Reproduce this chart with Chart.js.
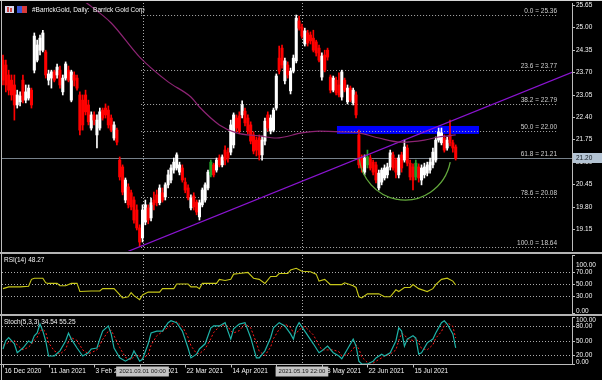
<!DOCTYPE html>
<html>
<head>
<meta charset="utf-8">
<script src="https://cdn.jsdelivr.net/npm/chart.js@4.4.0/dist/chart.umd.min.js"></script>
<style>
  html, body { margin: 0; padding: 0; background: #000; }
  #wrap { position: relative; width: 602px; height: 380px; background: #000; overflow: hidden; }
  #wrap canvas { position: absolute; left: 0; }
  .sep { position: absolute; left: 0; width: 602px; background: #b4b4b4; }
</style>
</head>
<body>
<div id="wrap">
  <canvas id="main" width="602" height="252" style="top:0"></canvas>
  <div class="sep" style="top:0;height:1px;background:#d6d6d6"></div>
  <div class="sep" style="top:252px;height:2px"></div>
  <canvas id="rsi" width="602" height="60" style="top:254px"></canvas>
  <div class="sep" style="top:314px;height:2px"></div>
  <canvas id="stoch" width="602" height="64" style="top:316px"></canvas>
</div>
<script>
// === Nến ngày #BarrickGold (chỉ số phiên, 0 = 16 Dec 2020)
const opens = [
  24.05, 23.91, 23.62, 23.47, 23.33, 22.75, 22.84, 23.47, 22.89, 22.95,
  23.18, 23.76, 24.05, 24.34, 24.34, 24.29, 23.47, 23.53, 23.71, 23.62,
  23.76, 23.13, 23.53, 23.76, 22.89, 23.62, 23.53, 23.04, 22.89, 23.04,
  22.75, 22.08, 22.46, 21.88, 22.08, 22.60, 22.66, 22.60, 22.37, 21.79,
  22.02, 21.15, 20.95, 19.99, 20.37, 20.20, 19.99, 19.70, 19.18, 18.89,
  19.35, 19.76, 19.47, 19.99, 20.14, 19.91, 20.20, 20.08, 20.43, 20.57,
  20.86, 20.92, 20.80, 20.92, 20.51, 20.34, 19.76, 20.11, 19.93, 19.50,
  19.85, 19.99, 20.34, 20.72, 21.01, 20.86, 21.21, 21.01, 21.44, 21.38,
  21.38, 21.59, 22.37, 22.43, 22.46, 22.57, 22.37, 22.17, 21.88, 21.73,
  21.79, 21.30, 21.70, 22.46, 21.99, 22.02, 22.66, 24.11, 24.40, 23.45,
  23.91, 23.16, 23.73, 24.03, 25.19, 25.01, 24.52, 24.84, 24.78, 24.69,
  24.58, 24.40, 23.56, 24.20, 24.34, 23.56, 23.18, 23.47, 23.33, 22.98,
  23.47, 22.84, 23.24, 22.81, 23.04, 21.88, 21.21, 20.80, 21.01, 21.21,
  21.09, 21.01, 20.34, 20.51, 20.63, 20.72, 20.95, 21.30, 21.15, 20.72,
  21.30, 21.15, 21.50, 21.06, 20.95, 20.66, 20.95, 20.57, 20.72, 20.77,
  20.86, 21.01, 21.15, 21.73, 21.65, 21.79, 21.50, 21.88, 21.65, 21.53
];
const highs = [
  24.20, 24.05, 23.76, 23.62, 23.62, 23.18, 23.13, 23.62, 23.33, 23.33,
  23.24, 24.84, 24.63, 24.78, 24.92, 24.34, 23.76, 23.76, 23.76, 23.94,
  23.88, 23.62, 24.00, 23.88, 23.76, 23.71, 23.62, 23.13, 23.04, 23.18,
  22.89, 22.55, 22.55, 22.46, 22.66, 22.66, 22.78, 22.72, 22.46, 22.26,
  22.08, 21.24, 21.01, 20.63, 20.46, 20.28, 20.08, 19.85, 19.27, 19.85,
  19.99, 19.85, 20.05, 20.22, 20.28, 20.43, 20.34, 20.49, 20.86, 21.01,
  21.21, 21.36, 21.09, 21.01, 20.63, 20.43, 20.14, 20.20, 19.99, 19.99,
  20.34, 20.49, 20.86, 21.15, 21.06, 21.21, 21.30, 21.30, 21.56, 21.50,
  22.31, 22.52, 22.46, 22.55, 22.87, 22.66, 22.46, 22.26, 21.97, 21.82,
  21.88, 21.85, 22.37, 22.55, 22.46, 22.66, 23.65, 24.46, 24.49, 24.11,
  24.00, 23.82, 24.20, 25.36, 25.33, 25.10, 24.98, 24.92, 24.87, 24.92,
  24.63, 24.49, 24.26, 24.34, 24.40, 23.62, 23.59, 23.56, 23.68, 23.76,
  23.53, 23.33, 23.30, 23.24, 23.13, 22.02, 21.30, 21.30, 21.44, 21.30,
  21.15, 21.09, 20.86, 20.92, 21.01, 21.06, 21.44, 21.38, 21.21, 21.30,
  21.38, 21.73, 21.59, 21.15, 21.04, 21.15, 21.04, 21.01, 21.06, 21.09,
  21.21, 21.50, 21.82, 22.08, 22.08, 21.88, 21.82, 22.31, 21.73, 21.59
];
const lows = [
  23.33, 23.13, 23.04, 22.89, 22.31, 22.66, 22.72, 22.81, 22.81, 22.89,
  22.66, 23.68, 24.00, 24.20, 24.29, 23.53, 23.33, 23.24, 23.42, 23.53,
  23.24, 23.04, 23.47, 23.42, 22.84, 23.30, 23.18, 21.88, 22.02, 22.46,
  22.17, 22.02, 22.17, 21.50, 22.02, 22.31, 22.37, 22.08, 21.97, 21.73,
  21.59, 20.57, 20.14, 19.91, 19.76, 19.70, 19.32, 19.12, 18.64, 18.77,
  19.27, 19.30, 19.38, 19.70, 19.82, 19.85, 19.93, 19.99, 20.34, 20.49,
  20.77, 20.86, 20.72, 20.51, 20.20, 19.99, 19.70, 19.70, 19.56, 19.41,
  19.79, 19.93, 20.28, 20.66, 20.66, 20.80, 20.95, 20.95, 21.01, 21.09,
  21.30, 21.50, 21.97, 21.91, 22.37, 22.14, 21.91, 21.62, 21.33, 21.27,
  21.15, 21.15, 21.59, 21.99, 21.91, 21.97, 22.60, 23.65, 23.82, 23.36,
  23.53, 23.07, 23.68, 23.97, 24.92, 24.69, 24.46, 24.46, 24.52, 24.29,
  24.17, 24.00, 23.47, 23.71, 24.05, 23.10, 23.13, 23.04, 22.98, 22.89,
  23.13, 22.78, 22.84, 22.75, 22.37, 20.92, 20.80, 20.72, 20.92, 20.86,
  20.72, 20.49, 20.28, 20.43, 20.57, 20.63, 20.86, 20.86, 20.63, 20.63,
  20.80, 21.09, 20.98, 20.57, 20.28, 20.57, 20.51, 20.43, 20.63, 20.69,
  20.77, 20.92, 21.09, 21.67, 21.59, 21.38, 21.44, 21.56, 21.38, 21.15
];
const closes = [
  23.47, 23.33, 23.18, 23.04, 22.75, 23.04, 23.01, 22.89, 23.13, 23.24,
  22.75, 24.75, 24.49, 24.69, 24.84, 23.62, 23.65, 23.71, 23.47, 23.85,
  23.33, 23.53, 23.94, 23.47, 23.71, 23.47, 23.24, 22.02, 22.17, 22.55,
  22.26, 22.46, 22.31, 22.31, 22.55, 22.37, 22.46, 22.17, 22.02, 22.17,
  21.67, 20.66, 20.22, 20.57, 19.85, 19.79, 19.41, 19.18, 18.77, 19.70,
  19.85, 19.41, 19.91, 19.85, 19.91, 20.34, 19.99, 20.43, 20.72, 20.92,
  21.09, 21.30, 21.01, 20.57, 20.28, 20.05, 20.05, 19.79, 19.64, 19.91,
  20.28, 20.43, 20.80, 21.09, 20.72, 21.15, 21.01, 21.24, 21.15, 21.21,
  22.17, 22.46, 22.08, 21.99, 22.75, 22.23, 21.99, 21.70, 21.41, 21.44,
  21.30, 21.73, 22.28, 22.08, 22.37, 22.60, 23.59, 23.73, 23.91, 24.03,
  23.62, 23.73, 24.11, 25.27, 24.98, 24.75, 24.90, 24.55, 24.61, 24.34,
  24.26, 24.05, 24.17, 23.76, 24.14, 23.18, 23.53, 23.10, 23.04, 23.71,
  23.18, 23.24, 22.89, 23.18, 22.46, 21.01, 20.92, 21.21, 21.24, 20.92,
  20.80, 20.57, 20.77, 20.86, 20.92, 20.95, 21.36, 20.92, 20.80, 21.21,
  20.92, 21.53, 21.06, 20.66, 20.57, 21.06, 20.63, 20.92, 20.95, 21.01,
  21.09, 21.38, 21.73, 21.97, 21.94, 21.44, 21.73, 21.65, 21.50, 21.20
];
const greenBars = [73, 128, 145];

// === Đường MA
const maIdx = [0, 14, 28, 38, 48, 58, 66, 69, 76, 82, 90, 96, 105, 111, 119, 125, 132, 140, 148, 153, 159];
const maVal = [27.71, 26.75, 25.80, 25.13, 24.14, 23.42, 22.98, 22.69, 22.17, 21.94, 21.85, 21.79, 21.94, 21.99, 21.97, 21.94, 21.79, 21.67, 21.73, 21.82, 21.88];

// === Trendline
const trendIdx = [44, 199.85];
const trendVal = [18.5, 23.7];

// === Fibonacci
const fibLevels = ["0.0", "23.6", "38.2", "50.0", "61.8", "78.6", "100.0"];
const fibPrices = [25.36, 23.77, 22.79, 22.0, 21.21, 20.08, 18.64];
const fibFrom = 48.5;
const fibTo = 194.6;

// === Vùng xanh + vòng cung
const zoneFrom = 117.3, zoneTo = 167.2, zoneTop = 22.14, zoneBottom = 21.91;
const arcIdx = 141.2, arcPrice = 21.36, arcBars = 16.2, arcDepth = 1.37;

const bidPrice = 21.2;
const priceTicks = [25.65, 25.0, 24.35, 23.7, 23.05, 22.4, 21.75, 21.1, 20.45, 19.8, 19.15];

// === RSI(14)
const rsiIdx = [0, 2, 6, 9, 10, 11, 14, 15, 16, 19, 20, 22, 24, 26, 27, 31, 34, 35, 39, 40,
  42, 44, 45, 46, 48, 49, 51, 55, 56, 60, 61, 65, 66, 68, 69, 70, 75, 76, 78, 80,
  81, 83, 86, 88, 90, 92, 94, 96, 97, 100, 101, 103, 105, 108, 110, 111, 113, 115, 119, 120,
  123, 124, 125, 126, 128, 132, 134, 136, 138, 139, 141, 143, 144, 146, 149, 151, 152, 154, 156, 158, 159];
const rsiVal = [42, 45, 45, 46, 58, 60, 60, 52, 51, 51, 47, 47, 51, 51, 37, 38, 38, 42, 42, 37,
  26, 28, 35, 30, 23, 31, 36, 36, 42, 42, 50, 50, 45, 45, 42, 51, 51, 58, 56, 58,
  67, 68, 70, 60, 58, 51, 63, 63, 68, 68, 74, 77, 72, 71, 67, 55, 58, 49, 49, 52,
  47, 44, 28, 26, 33, 33, 28, 28, 40, 37, 44, 44, 49, 42, 37, 42, 49, 58, 60, 55, 48.27];
const rsiTicks = [100, 70, 50, 30, 0];

// === Stoch(5,3,3)
const stIdx = [0, 1, 2, 4, 5, 7, 9, 10, 11, 12, 13, 14, 15, 16, 18, 20, 22, 23, 24, 26,
  28, 30, 31, 33, 34, 35, 37, 38, 39, 41, 43, 45, 46, 47, 48, 49, 51, 52, 54, 56,
  58, 59, 61, 63, 65, 66, 68, 69, 71, 73, 74, 76, 78, 79, 80, 81, 83, 85, 87, 89,
  90, 92, 94, 95, 97, 99, 101, 102, 103, 104, 106, 109, 111, 112, 114, 116, 118, 119, 121, 123,
  124, 125, 126, 128, 130, 131, 133, 134, 136, 138, 139, 140, 141, 142, 144, 145, 146, 147, 149, 151,
  152, 154, 155, 156, 158, 159];
const stMain = [32, 50, 56, 43, 24, 34, 49, 45, 60, 66, 85, 70, 49, 17, 17, 28, 49, 66, 53, 34,
  17, 24, 32, 34, 53, 70, 81, 64, 34, 13, 6, 13, 28, 17, 6, 10, 43, 66, 70, 70,
  88, 92, 88, 70, 34, 13, 21, 32, 43, 77, 81, 81, 88, 70, 53, 75, 85, 88, 56, 13,
  13, 28, 56, 77, 88, 81, 64, 53, 77, 88, 70, 43, 24, 28, 38, 24, 17, 11, 32, 53,
  38, 6, 0, 0, 6, 13, 21, 17, 24, 49, 77, 70, 38, 53, 60, 55, 21, 24, 45, 53,
  66, 88, 92, 85, 64, 34.54];
const stSignal = [40, 42, 46, 50, 40, 30, 36, 42, 51, 57, 70, 74, 68, 45, 28, 21, 31, 48, 56, 50,
  30, 22, 24, 30, 40, 52, 70, 72, 60, 35, 14, 9, 16, 19, 17, 11, 20, 40, 60, 69,
  78, 84, 90, 80, 57, 39, 22, 22, 32, 54, 67, 80, 84, 80, 70, 66, 71, 85, 77, 45,
  27, 18, 36, 54, 74, 85, 78, 66, 65, 73, 80, 62, 40, 30, 30, 30, 26, 17, 20, 32,
  41, 32, 15, 3, 2, 6, 13, 17, 21, 30, 50, 65, 62, 54, 50, 56, 45, 33, 30, 41,
  55, 69, 82, 88, 80, 55.25];
const stochTicks = [100, 80, 50, 20, 0];

// === Trục thời gian
const timeIdx = [0, 16, 32, 48, 64, 80, 96, 112, 128, 144];
const timeLabels = ["16 Dec 2020", "11 Jan 2021", "3 Feb 2021", "26 Feb 2021", "22 Mar 2021",
  "14 Apr 2021", "6 May 2021", "28 May 2021", "22 Jun 2021", "15 Jul 2021"];
const markIdx = [49, 105];
const markLabels = ["2021.03.01 00:00", "2021.05.19 22:00"];

const FONT = '6.5px "Liberation Sans", Arial, sans-serif';
const SMALL_FONT = '6px "Liberation Sans", Arial, sans-serif';
const DOT = "#ababab";
const X_MIN = -0.35, X_MAX = 199.85;

const pts = (xs, ys) => xs.map((v, k) => ({ x: v, y: ys[k] }));

// === Plugin vẽ kiểu MetaTrader
const mtPane = {
  id: "mtPane",
  beforeDatasetsDraw(chart, args, o) {
    const { ctx, chartArea: a } = chart;
    const x = chart.scales.x, y = chart.scales.y;
    ctx.save();
    ctx.beginPath();
    ctx.rect(a.left, a.top, a.right - a.left, a.bottom - a.top);
    ctx.clip();

    if (o.zone) {
      const x1 = x.getPixelForValue(zoneFrom), x2 = x.getPixelForValue(zoneTo);
      const y1 = y.getPixelForValue(zoneTop), y2 = y.getPixelForValue(zoneBottom);
      ctx.fillStyle = "#0000ff";
      ctx.fillRect(x1, y1, x2 - x1, y2 - y1);
    }

    ctx.lineWidth = 1;
    ctx.strokeStyle = DOT;
    ctx.setLineDash([1, 2]);
    (o.levels || []).forEach((v) => {
      const py = Math.round(y.getPixelForValue(v)) + 0.5;
      ctx.beginPath();
      ctx.moveTo(a.left, py);
      ctx.lineTo(a.right, py);
      ctx.stroke();
    });
    if (o.fib) {
      const x1 = x.getPixelForValue(fibFrom), x2 = x.getPixelForValue(fibTo);
      fibPrices.forEach((p) => {
        const py = Math.round(y.getPixelForValue(p)) + 0.5;
        ctx.beginPath();
        ctx.moveTo(x1, py);
        ctx.lineTo(x2, py);
        ctx.stroke();
      });
    }
    markIdx.forEach((i) => {
      const px = Math.round(x.getPixelForValue(i)) + 0.5;
      ctx.beginPath();
      ctx.moveTo(px, a.top);
      ctx.lineTo(px, a.bottom);
      ctx.stroke();
    });
    ctx.setLineDash([]);

    if (o.bid) {
      const py = Math.round(y.getPixelForValue(bidPrice)) + 0.5;
      ctx.strokeStyle = "#76808a";
      ctx.beginPath();
      ctx.moveTo(a.left, py);
      ctx.lineTo(a.right, py);
      ctx.stroke();
    }
    ctx.restore();
  },
  afterDatasetsDraw(chart, args, o) {
    const { ctx, chartArea: a } = chart;
    const x = chart.scales.x, y = chart.scales.y;
    ctx.save();
    ctx.beginPath();
    ctx.rect(a.left, a.top, a.right - a.left, a.bottom - a.top);
    ctx.clip();

    if (o.arc) {
      const cx = x.getPixelForValue(arcIdx), cy = y.getPixelForValue(arcPrice);
      const rx = x.getPixelForValue(arcIdx + arcBars) - cx;
      const ry = y.getPixelForValue(arcPrice - arcDepth) - cy;
      ctx.strokeStyle = "#63a83c";
      ctx.lineWidth = 1.3;
      ctx.beginPath();
      ctx.ellipse(cx, cy, rx, ry, 0, 0.2, Math.PI - 0.12);
      ctx.stroke();
    }

    ctx.font = FONT;
    if (o.fib) {
      const x2 = x.getPixelForValue(fibTo);
      ctx.fillStyle = "#d0d0d0";
      ctx.textAlign = "right";
      ctx.textBaseline = "bottom";
      fibPrices.forEach((p, k) => {
        const py = Math.round(y.getPixelForValue(p));
        ctx.fillText(fibLevels[k] + " = " + p.toFixed(2), x2, py - 1);
      });
    }

    ctx.textAlign = "left";
    ctx.textBaseline = "middle";
    if (o.icons) {
      ctx.fillStyle = "#d8d8ee";
      ctx.fillRect(a.left + 3, a.top + 3, 9, 7);
      ctx.fillStyle = "#d04848";
      ctx.fillRect(a.left + 5, a.top + 4, 2, 5);
      ctx.fillRect(a.left + 8, a.top + 5, 2, 4);
      ctx.fillStyle = "#3a58d8";
      ctx.fillRect(a.left + 15, a.top + 3, 5, 7);
      ctx.fillStyle = "#d83a3a";
      ctx.fillRect(a.left + 20, a.top + 3, 5, 7);
      ctx.fillStyle = "#f4f4f4";
      ctx.fillText(o.caption, a.left + 30, a.top + 7);
    } else if (o.caption) {
      ctx.fillStyle = "#f4f4f4";
      ctx.fillText(o.caption, a.left + 2, a.top + 5);
    }
    ctx.restore();
  },
  afterDraw(chart, args, o) {
    const { ctx, chartArea: a } = chart;
    const x = chart.scales.x, y = chart.scales.y;
    ctx.save();
    ctx.lineWidth = 1;
    ctx.strokeStyle = "#bcbcbc";
    // khung trái + trục giá
    ctx.beginPath();
    ctx.moveTo(a.left - 0.5, 0);
    ctx.lineTo(a.left - 0.5, chart.height);
    ctx.moveTo(a.right + 0.5, a.top);
    ctx.lineTo(a.right + 0.5, a.bottom);
    ctx.stroke();

    ctx.font = FONT;
    ctx.fillStyle = "#f4f4f4";
    ctx.textAlign = "left";
    ctx.textBaseline = "middle";
    o.ticks.forEach((v) => {
      const py = Math.round(y.getPixelForValue(v)) + 0.5;
      const shift = (o.nudge && o.nudge[v]) || 0;
      ctx.beginPath();
      ctx.moveTo(a.right, py);
      ctx.lineTo(a.right + 3, py);
      ctx.stroke();
      ctx.fillText(v.toFixed(2), a.right + 4, py + shift);
    });

    if (o.bid) {
      const py = Math.round(y.getPixelForValue(bidPrice));
      ctx.fillStyle = "#b3c3d3";
      ctx.fillRect(a.right + 1, py - 5, 29, 10);
      ctx.fillStyle = "#10181f";
      ctx.fillText(bidPrice.toFixed(2), a.right + 4, py + 0.5);
    }

    if (o.timeAxis) {
      const by = Math.round(a.bottom) + 0.5;
      ctx.beginPath();
      ctx.moveTo(0, by);
      ctx.lineTo(a.right, by);
      ctx.stroke();
      ctx.fillStyle = "#f4f4f4";
      timeIdx.forEach((i, k) => {
        const px = Math.round(x.getPixelForValue(i)) + 0.5;
        ctx.beginPath();
        ctx.moveTo(px, by);
        ctx.lineTo(px, by + 3);
        ctx.stroke();
        ctx.fillText(timeLabels[k], px + 1, by + 7);
      });
      // hộp thời gian của hai đường dọc
      ctx.font = SMALL_FONT;
      markIdx.forEach((i, k) => {
        const px = x.getPixelForValue(i);
        const w = ctx.measureText(markLabels[k]).width + 6;
        ctx.fillStyle = "#c4c4c4";
        ctx.fillRect(px - w / 2, by + 2, w, 10);
        ctx.fillStyle = "#202020";
        ctx.textAlign = "center";
        ctx.fillText(markLabels[k], px, by + 7);
        ctx.textAlign = "left";
      });
    }
    ctx.restore();
  },
};

const baseScales = (ymin, ymax) => ({
  x: { type: "linear", min: X_MIN, max: X_MAX, display: false, offset: false },
  y: { min: ymin, max: ymax, display: false },
});
const baseOpts = {
  responsive: false,
  animation: false,
  devicePixelRatio: 1,
  events: [],
};

// === Biểu đồ giá
const idx = opens.map((_, i) => i);
const candleColors = idx.map((i) =>
  greenBars.includes(i) ? "#22a02a" : closes[i] >= opens[i] ? "#ffffff" : "#ff0000"
);

new Chart(document.getElementById("main"), {
  type: "bar",
  data: {
    datasets: [
      {
        type: "line",
        data: pts(maIdx, maVal),
        borderColor: "#8e2474",
        borderWidth: 1.2,
        pointRadius: 0,
        cubicInterpolationMode: "monotone",
        order: 1,
      },
      {
        type: "line",
        data: pts(trendIdx, trendVal),
        borderColor: "#8a14d0",
        borderWidth: 1.2,
        pointRadius: 0,
        order: 1,
      },
      {
        data: idx.map((i) => ({ x: i, y: [opens[i], closes[i]] })),
        backgroundColor: candleColors,
        barThickness: 2.4,
        minBarLength: 1,
        grouped: false,
        order: 2,
      },
      {
        data: idx.map((i) => ({ x: i, y: [lows[i], highs[i]] })),
        backgroundColor: candleColors,
        barThickness: 1,
        grouped: false,
        order: 3,
      },
    ],
  },
  options: {
    ...baseOpts,
    layout: { padding: { left: 2, right: 30, top: 3, bottom: 1 } },
    scales: baseScales(18.51, 25.71),
    plugins: {
      legend: { display: false },
      tooltip: { enabled: false },
      mtPane: {
        zone: true,
        fib: true,
        bid: true,
        arc: true,
        icons: true,
        caption: "#BarrickGold, Daily:  Barrick Gold Corp",
        ticks: priceTicks,
      },
    },
  },
  plugins: [mtPane],
});

// === RSI
new Chart(document.getElementById("rsi"), {
  type: "line",
  data: {
    datasets: [
      {
        data: pts(rsiIdx, rsiVal),
        borderColor: "#c8c81a",
        borderWidth: 1.1,
        pointRadius: 0,
      },
    ],
  },
  options: {
    ...baseOpts,
    layout: { padding: { left: 2, right: 30, top: 1, bottom: 1 } },
    scales: baseScales(0, 100),
    plugins: {
      legend: { display: false },
      tooltip: { enabled: false },
      mtPane: {
        levels: [70, 50, 30],
        caption: "RSI(14) " + rsiVal[rsiVal.length - 1].toFixed(2),
        ticks: rsiTicks,
        nudge: { 100: 10, 0: -2 },
      },
    },
  },
  plugins: [mtPane],
});

// === Stochastic
new Chart(document.getElementById("stoch"), {
  type: "line",
  data: {
    datasets: [
      {
        data: pts(stIdx, stMain),
        borderColor: "#1fb3a8",
        borderWidth: 1.2,
        pointRadius: 0,
      },
      {
        data: pts(stIdx, stSignal),
        borderColor: "#ff1a1a",
        borderWidth: 1,
        borderDash: [2, 2],
        pointRadius: 0,
      },
    ],
  },
  options: {
    ...baseOpts,
    layout: { padding: { left: 2, right: 30, top: 1, bottom: 16 } },
    scales: baseScales(0, 100),
    plugins: {
      legend: { display: false },
      tooltip: { enabled: false },
      mtPane: {
        levels: [80, 50, 20],
        caption:
          "Stoch(5,3,3) " +
          stMain[stMain.length - 1].toFixed(2) + " " +
          stSignal[stSignal.length - 1].toFixed(2),
        ticks: stochTicks,
        nudge: { 100: 3, 0: -2 },
        timeAxis: true,
      },
    },
  },
  plugins: [mtPane],
});
</script>
</body>
</html>
